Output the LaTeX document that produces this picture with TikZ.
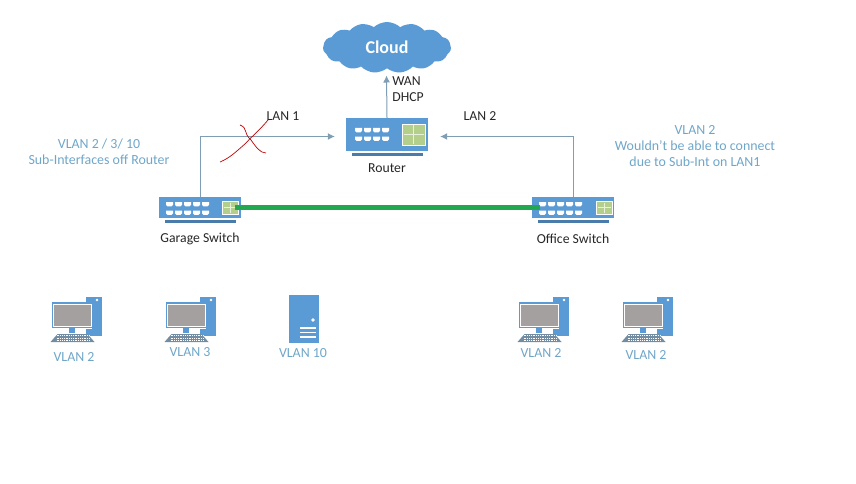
\documentclass[tikz,border=0pt]{standalone}
\usepackage{fontspec}
\setmainfont{Carlito}
\usepackage{tikz}
\usetikzlibrary{positioning, arrows.meta, shapes.symbols}
\definecolor{devblue}{HTML}{5B9BD5}
\definecolor{linkgrey}{HTML}{7F9DB3}
\definecolor{vlanblue}{HTML}{6FA6C8}
\definecolor{panelgreen}{HTML}{B4CF8C}
\definecolor{screengrey}{HTML}{A5A0A0}
\definecolor{trunkgreen}{HTML}{22A850}
\tikzset{
    switchbox/.style={fill=devblue, minimum width=82pt, minimum height=21pt, inner sep=0pt},
    routerbox/.style={fill=devblue, minimum width=82pt, minimum height=33pt, inner sep=0pt},
    serverbox/.style={fill=devblue, minimum width=30pt, minimum height=48pt, inner sep=0pt},
    pcbox/.style={minimum width=52pt, minimum height=45pt, inner sep=0pt},
    devlabel/.style={font=\fontsize{13.7}{16}\selectfont, text=black!85},
    vlanlabel/.style={font=\fontsize{13.9}{16}\selectfont, text=vlanblue, align=center},
    link/.style={draw=linkgrey, line width=1pt, -{Latex[length=7pt,width=7pt]}},
    % white port blocks, #1 columns in two rows
    pics/portgrid/.style={code={
        \foreach \c in {1,...,#1} {
            \foreach \r in {0,1} {
                \fill[white] ({(\c-1)*9},{\r*8.5}) -- ++(7,0) -- ++(0,2.8) -- ++(-1.6,1.6) -- ++(-3.8,0) -- ++(-1.6,-1.6) -- cycle;
            }
        }
    }},
    % green panel on a switch or router
    pics/panel/.style args={#1x#2}{code={
        \fill[panelgreen, draw=white, line width=0.7pt] (0,0) rectangle (#1,#2);
        \draw[white!70!panelgreen, line width=0.8pt] (#1/2,1.5) -- (#1/2,#2-1.5) (1.5,#2/2) -- (#1-1.5,#2/2);
    }},
    % desktop with tower, monitor and keyboard
    pics/desktop/.style={code={
        \fill[devblue] (9.5,-23) rectangle (25.5,16);
        \fill[white] (20.5,-20) circle (1.4);
        \fill[white] (15,-18.5) rectangle (9.5,9);
        \fill[devblue] (-25,-18) rectangle (16.5,8);
        \draw[white, line width=0.7pt] (-23,-16) rectangle (14.5,6);
        \fill[screengrey] (-22.5,-15.5) rectangle (14,5.5);
        \fill[devblue] (-8,8) rectangle (-2,13);
        \fill[linkgrey!90!black] (-19,14) -- (11,14) -- (18,22) -- (-26,22) -- cycle;
        \foreach \k in {15.5,18,20.3} {
            \draw[white, line width=0.5pt, dash pattern=on 1pt off 0.8pt] (-20,\k) -- (13,\k);
        }
    }},
}

\begin{document}
\begin{tikzpicture}[x=1pt, y=-1pt]
    \useasboundingbox (0,0) rectangle (856,484);

    % cloud and router
    \node [cloud, cloud puffs=15, cloud puff arc=85, aspect=2.6, fill=devblue, inner sep=0pt,
        minimum width=128pt, minimum height=51pt, text=white,
        font=\fontsize{18}{20}\selectfont\bfseries] (cloud) at (387,47.5) {Cloud};
    \node [routerbox] (router) at (387,134.5) {};
    \fill[devblue!80!black] (352,153) rectangle (423,156);
    \pic at (355,128) {portgrid=4};
    \pic at (402,124) {panel=23x21};
    \node [devlabel, below=9pt of router] (routerlabel) {Router};

    % the two switches
    \node [switchbox] (garage) at (200,207.5) {};
    \fill[devblue!80!black] (165,220) rectangle (236,223);
    \pic at (166,202) {portgrid=5};
    \pic at (222,201) {panel=16x13};
    \node [devlabel] (garagelabel) at (200,239) {Garage Switch};

    \node [switchbox] (office) at (573,207.5) {};
    \fill[devblue!80!black] (538,220) rectangle (609,223);
    \pic at (539,202) {portgrid=5};
    \pic at (596,201) {panel=16x13};
    \node [devlabel] (officelabel) at (573,239) {Office Switch};

    % connectors
    \coordinate (garageport) at (235,207.5);
    \coordinate (officeport) at (540,207.5);
    \coordinate (cloudfoot) at (386.5,75.5);
    \draw[link] (router.north) -- (cloudfoot);
    \draw[link, shorten >=11pt] (garage.north) |- ([yshift=-2pt]router.west);
    \draw[link, shorten >=12pt] (office.north) |- ([yshift=-2pt]router.east);
    \draw[trunkgreen, line width=5pt] (garageport) -- (officeport);

    % hand drawn cross over the LAN 1 link
    \draw[red!75!black, line width=0.7pt] (268,120) .. controls (258,132) and (252,136) .. (246,143)
        .. controls (238,150) and (230,158) .. (220,162);
    \draw[red!75!black, line width=0.7pt] (240,125) .. controls (248,128) and (243,133) .. (251,140)
        .. controls (256,147) and (260,153) .. (266,153);

    % link labels
    \node [devlabel] (lanone) at (283,116) {LAN 1};
    \node [devlabel] (lantwo) at (480,116) {LAN 2};
    \node [devlabel, align=left] (wan) at (408,89) {WAN\\DHCP};
    \node [vlanlabel] (garagevlans) at (99,152) {VLAN 2 / 3/ 10\\Sub-Interfaces off Router};
    \node [vlanlabel] (officevlans) at (695,146) {VLAN 2\\Wouldn't be able to connect\\due to Sub-Int on LAN1};

    % hosts
    \node [pcbox] (pca) at (76.5,320) {};
    \pic at (pca) {desktop};
    \node [vlanlabel] (pcalabel) at (74,357) {VLAN 2};
    \node [pcbox] (pcb) at (190.5,320) {};
    \pic at (pcb) {desktop};
    \node [vlanlabel] (pcblabel) at (190,352) {VLAN 3};
    \node [serverbox] (server) at (304,319) {};
    \fill[white] (313,320) circle (1.8);
    \foreach \y in {328,332.5,337} {
        \fill[white] (300,\y-0.6) rectangle (316,\y+0.6);
    }
    \node [vlanlabel] (serverlabel) at (303,353) {VLAN 10};
    \node [pcbox] (pcc) at (543.5,320) {};
    \pic at (pcc) {desktop};
    \node [vlanlabel] (pcclabel) at (541,353) {VLAN 2};
    \node [pcbox] (pcd) at (647.5,320) {};
    \pic at (pcd) {desktop};
    \node [vlanlabel] (pcdlabel) at (646,355) {VLAN 2};
\end{tikzpicture}
\end{document}
